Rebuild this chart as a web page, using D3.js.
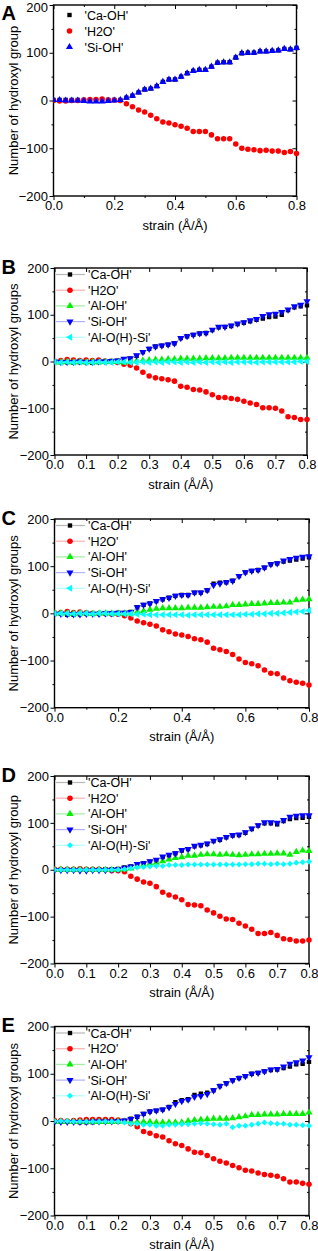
<!DOCTYPE html>
<html><head><meta charset="utf-8">
<script src="https://cdn.jsdelivr.net/npm/d3@7"></script>
<style>
html,body{margin:0;padding:0;background:#fff;}
svg{display:block;font-family:"Liberation Sans",Arial,sans-serif;}
</style></head>
<body>
<svg id="chart" width="318" height="1251"></svg>
<script>
// ---------- data ----------
const strain = [0.00,0.02,0.04,0.06,0.08,0.10,0.12,0.14,0.16,0.18,0.20,0.22,0.24,0.26,0.28,0.30,0.32,0.34,0.36,0.38,0.40,0.42,0.44,0.46,0.48,0.50,0.52,0.54,0.56,0.58,0.60,0.62,0.64,0.66,0.68,0.70,0.72,0.74,0.76,0.78,0.80];
const yTicks = [-200,-100,0,100,200];
const xTicksEven = [0.0,0.2,0.4,0.6,0.8];
const xTicksAll = [0.0,0.1,0.2,0.3,0.4,0.5,0.6,0.7,0.8];
const seriesNames = ["'Ca-OH'","'H2O'","'Al-OH'","'Si-OH'","'Al-O(H)-Si'"];

// Panel A
const A_CaOH = [1,1,1,1,1,1,0,0,0,1,1,1,6,10,17,23,25,30,39,44,44,50,57,62,64,64,71,79,80,80,90,99,100,100,103,103,104,105,108,107,110];
const A_H2O  = [0,-1,-1,0,0,1,2,2,3,1,1,0,-7,-13,-20,-24,-31,-38,-45,-47,-51,-54,-58,-65,-65,-65,-72,-80,-80,-80,-91,-100,-102,-103,-105,-104,-106,-106,-109,-107,-111];
const A_SiOH = [1,1,0,0,0,-1,-2,-2,-2,-1,0,1,6,10,17,23,25,30,39,44,44,50,57,62,64,64,71,79,80,80,90,99,100,100,103,103,104,105,108,107,110];

// Panel B
const B_CaOH = [0,-1,-2,-3,-2,-1,-3,-1,0,1,2,5,6,12,20,27,32,34,36,39,50,54,57,60,61,67,73,74,76,80,83,86,89,92,95,96,100,110,116,118,120];
const B_H2O  = [0,2,4,3,2,3,2,3,1,0,-2,-6,-8,-14,-23,-31,-35,-37,-39,-42,-53,-55,-60,-61,-65,-71,-77,-77,-79,-81,-85,-89,-92,-99,-99,-100,-106,-118,-120,-124,-124];
const B_AlOH = [-2,-2,-1,-2,-1,-2,-1,-2,-1,-1,-1,-2,0,1,2,3,4,4,5,5,6,6,6,6,7,7,7,7,8,8,8,8,8,8,8,8,8,8,8,8,8];
const B_SiOH = [0,-1,-1,-1,0,-1,-1,0,0,1,2,6,7,13,20,27,32,34,36,39,50,54,57,60,61,68,74,74,77,81,84,88,91,97,101,102,106,111,118,121,129];
const B_AlOHSi=[-1,-2,-1,-2,-1,-2,-2,-1,-2,-2,-1,-1,-2,-2,-1,-2,-1,-2,-1,-1,-2,-1,-2,-1,-2,-1,-2,-1,-2,-1,-1,-1,-2,-1,-1,-1,-1,-1,-1,0,0];

// Panel C
const C_CaOH = [-1,-1,-3,-3,-2,-1,-1,0,0,0,1,1,3,13,18,21,26,30,33,37,39,39,44,44,49,63,65,66,69,79,87,90,92,97,104,106,110,112,114,116,119];
const C_H2O  = [1,2,4,2,3,1,0,-1,-1,-2,-2,-5,-10,-16,-20,-23,-27,-35,-39,-44,-46,-49,-54,-56,-61,-74,-77,-81,-87,-97,-104,-107,-111,-120,-127,-128,-137,-143,-146,-148,-152];
const C_AlOH = [0,0,0,-1,0,0,-1,0,0,0,0,0,0,3,5,8,10,11,11,11,11,12,12,12,13,14,14,15,18,18,19,20,20,21,22,22,23,23,28,29,30];
const C_SiOH = [-1,-1,-2,-2,-2,-1,-1,-1,0,0,1,1,3,13,18,21,26,30,33,37,39,39,44,44,49,60,63,66,69,79,87,90,92,97,104,106,112,115,118,120,121];
const C_AlOHSi=[0,0,0,-1,0,0,-1,0,0,-1,-1,-1,-1,-2,-2,-3,-3,-3,-3,-3,-3,-4,-3,-3,-3,-3,-3,-3,-3,-3,-2,-2,-1,-1,0,0,1,2,3,4,6];

// Panel D
const D_CaOH = [0,0,0,0,0,0,0,1,1,1,2,5,7,12,14,17,20,27,31,35,41,44,50,52,55,61,64,69,73,74,79,87,94,99,99,97,104,108,110,111,113];
const D_H2O  = [1,1,1,1,2,1,1,1,0,-2,-2,-4,-14,-20,-26,-29,-36,-48,-54,-58,-64,-74,-75,-77,-86,-92,-99,-105,-106,-114,-120,-127,-136,-136,-134,-140,-147,-149,-152,-152,-150];
const D_AlOH = [0,0,0,0,0,0,0,0,0,0,0,1,3,7,10,13,15,18,22,25,27,30,30,32,33,33,32,33,32,31,32,33,33,34,34,35,35,32,38,41,40];
const D_SiOH = [-1,-1,-1,-1,-2,-2,-1,-1,-1,0,1,4,7,12,14,18,21,28,32,35,42,44,51,53,56,62,65,70,74,75,80,88,95,101,101,100,106,113,115,116,116];
const D_AlOHSi=[0,0,0,0,0,0,0,0,0,0,0,1,3,5,6,7,8,8,10,10,10,11,11,11,11,11,11,11,11,11,12,12,13,13,12,13,12,13,15,16,17];

// Panel E
const E_CaOH = [-1,-1,-2,-2,-3,-3,-3,-2,-2,-1,-1,0,5,9,15,20,22,24,30,40,44,46,55,58,60,65,74,80,86,91,95,100,102,105,108,109,112,115,120,121,125];
const E_H2O  = [1,1,0,1,2,3,3,3,3,3,2,0,-6,-12,-22,-26,-31,-34,-42,-48,-52,-59,-66,-67,-73,-80,-85,-89,-94,-99,-104,-106,-110,-113,-115,-117,-122,-129,-129,-132,-134];
const E_AlOH = [-2,-2,-2,-2,-2,-2,-2,-2,-2,-2,-1,-1,-2,-2,-2,-2,-3,-3,-3,-3,-3,0,2,3,4,5,5,5,6,8,10,13,13,14,14,14,15,15,15,15,18];
const E_SiOH = [-2,-2,-2,-2,-2,-2,-1,-1,-1,-1,0,1,4,9,15,20,22,24,29,36,42,45,51,53,57,65,74,80,86,91,95,100,102,105,109,110,115,121,124,128,135];
const E_AlOHSi=[0,0,0,-1,-1,-1,-1,-1,-1,-1,-1,-3,-6,-6,-8,-8,-10,-10,-8,-8,-7,-7,-6,-5,-6,-7,-8,-6,-13,-10,-10,-8,-6,-3,-5,-6,-6,-8,-8,-9,-10];

// ---------- styles ----------
const styles = {
  "'Ca-OH'":     {color:"#000000", light:"#b8b8b8", sym:"square"},
  "'H2O'":       {color:"#ff0000", light:"#ffb0b0", sym:"circle"},
  "'Al-OH'":     {color:"#00f000", light:"#a0f0a0", sym:"up"},
  "'Si-OH'":     {color:"#0000ff", light:"#b0b0ff", sym:"down"},
  "'Al-O(H)-Si'":{color:"#00ffff", light:"#b0ffff", sym:"left"}
};

const panels = [
  {letter:"A", top:5, bottom:196, left:53.5, right:296.5, xticks:xTicksEven, ylabel:"Number of hydroxyl group",
   legendLines:false, names:["'Ca-OH'","'H2O'","'Si-OH'"], data:[A_CaOH,A_H2O,A_SiOH], sym:{"'Si-OH'":"up"}},
  {letter:"B", top:268, bottom:455, left:54.5, right:307, xticks:xTicksAll, ylabel:"Number of hydroxyl groups",
   legendLines:true, names:seriesNames, data:[B_CaOH,B_H2O,B_AlOH,B_SiOH,B_AlOHSi], sym:{}},
  {letter:"C", top:519, bottom:707.7, left:54.5, right:309, xticks:xTicksEven, ylabel:"Number of hydroxyl groups",
   legendLines:true, names:seriesNames, data:[C_CaOH,C_H2O,C_AlOH,C_SiOH,C_AlOHSi], sym:{}},
  {letter:"D", top:776, bottom:963.5, left:54.5, right:309, xticks:xTicksAll, ylabel:"Number of hydroxyl group",
   legendLines:true, names:seriesNames, data:[D_CaOH,D_H2O,D_AlOH,D_SiOH,D_AlOHSi], sym:{"'Al-O(H)-Si'":"diamond"}},
  {letter:"E", top:1026.5, bottom:1215.5, left:54.5, right:309, xticks:xTicksAll, ylabel:"Number of hydroxyl groups",
   legendLines:true, names:seriesNames, data:[E_CaOH,E_H2O,E_AlOH,E_SiOH,E_AlOHSi], sym:{"'Al-O(H)-Si'":"diamond"}}
];

const svg = d3.select("#chart");

function symPath(kind){
  switch(kind){
    case "square": return d3.symbol(d3.symbolSquare, 19)();
    case "circle": return d3.symbol(d3.symbolCircle, 24)();
    case "diamond": return d3.symbol(d3.symbolSquare, 18)();
    default: return d3.symbol(d3.symbolTriangle, 22)();
  }
}
function symRot(kind){
  return {down:180, left:-90, diamond:45}[kind] || 0;
}

panels.forEach(p => {
  const g = svg.append("g");
  const x = d3.scaleLinear().domain([0,0.8]).range([p.left,p.right]);
  const y = d3.scaleLinear().domain([-200,200]).range([p.bottom,p.top]);

  const clipId = "clip"+p.letter;
  svg.append("clipPath").attr("id",clipId).append("rect")
    .attr("x",p.left).attr("y",p.top-4).attr("width",p.right-p.left+4).attr("height",p.bottom-p.top+8);

  const minorY = [-150,-50,50,150];
  const minorX = p.xticks.length===5 ? [0.1,0.3,0.5,0.7] : [];
  const fmtX = d3.format(".1f");
  const ax = g.append("g").attr("class","axes");

  const left = ax.append("g").attr("transform",`translate(${p.left},0)`)
    .call(d3.axisLeft(y).tickValues(yTicks).tickSize(4).tickPadding(1.5).tickFormat(d3.format("d")));
  left.append("g").call(d3.axisLeft(y).tickValues(minorY).tickSize(2).tickFormat(""));
  const bottom = ax.append("g").attr("transform",`translate(0,${p.bottom})`)
    .call(d3.axisBottom(x).tickValues(p.xticks).tickSize(4).tickPadding(1).tickFormat(fmtX));
  if(minorX.length) bottom.append("g").call(d3.axisBottom(x).tickValues(minorX).tickSize(2).tickFormat(""));
  const right = ax.append("g").attr("transform",`translate(${p.right},0)`)
    .call(d3.axisRight(y).tickValues(yTicks).tickSize(-4).tickFormat(""));
  right.append("g").call(d3.axisRight(y).tickValues(minorY).tickSize(-2).tickFormat(""));
  const top = ax.append("g").attr("transform",`translate(0,${p.top})`)
    .call(d3.axisTop(x).tickValues(p.xticks).tickSize(-4).tickFormat(""));
  if(minorX.length) top.append("g").call(d3.axisTop(x).tickValues(minorX).tickSize(-2).tickFormat(""));
  ax.selectAll(".domain").remove();
  ax.selectAll("line").attr("stroke","#000").attr("stroke-width",1);
  ax.selectAll("text").attr("fill","#000").style("font-size","13px").style("font-family","'Liberation Sans',Arial,sans-serif");
  // keep the topmost label of panel A inside the page
  if(p.letter==="A") left.selectAll(".tick text").filter(d=>d===200).attr("dy","0.5em");

  g.append("rect").attr("x",p.left).attr("y",p.top).attr("width",p.right-p.left).attr("height",p.bottom-p.top)
    .attr("fill","none").attr("stroke","#000").attr("stroke-width",1.4);

  const plot = g.append("g").attr("clip-path",`url(#${clipId})`);
  p.names.forEach((name,si) => {
    const st = styles[name];
    const kind = p.sym[name] || st.sym;
    const vals = p.data[si];
    const pts = strain.map((s,i)=>[s,vals[i]]);
    if(p.legendLines){
      plot.append("path").datum(pts)
        .attr("d", d3.line().x(d=>x(d[0])).y(d=>y(d[1])))
        .attr("fill","none").attr("stroke",st.light).attr("stroke-width",0.8);
    }
    plot.append("g").selectAll("path").data(pts).join("path")
      .attr("d", symPath(kind))
      .attr("transform", d=>`translate(${x(d[0])},${y(d[1])}) rotate(${symRot(kind)})`)
      .attr("fill", st.color);
  });

  const lg = g.append("g");
  const step = p.legendLines ? 15.7 : 16;
  const y0 = p.top + (p.legendLines ? 6.5 : 10);
  p.names.forEach((name,si) => {
    const st = styles[name];
    const kind = p.sym[name] || st.sym;
    const ly = y0 + si*step;
    const mx = p.legendLines ? 70 : 69.5;
    if(p.legendLines){
      lg.append("line").attr("x1",56).attr("x2",85).attr("y1",ly).attr("y2",ly)
        .attr("stroke",st.light).attr("stroke-width",1.2);
    }
    lg.append("path").attr("d",symPath(kind))
      .attr("transform",`translate(${mx},${ly}) rotate(${symRot(kind)})`).attr("fill",st.color);
    lg.append("text").attr("x", p.legendLines ? 88 : 84.5).attr("y", ly+4.5)
      .style("font-size","12.5px").text(name);
  });

  g.append("text").attr("x",(p.left+p.right)/2).attr("y",p.bottom+33.5)
    .attr("text-anchor","middle").style("font-size","13px").text("strain (Å/Å)");
  g.append("text").attr("transform",`translate(17.5,${(p.top+p.bottom)/2}) rotate(-90)`)
    .attr("text-anchor","middle").style("font-size","13px").text(p.ylabel);
  g.append("text").attr("x",1.5).attr("y",p.top+(p.letter==="A"?15:5.5))
    .style("font-size","20px").style("font-weight","bold").text(p.letter);
});
</script>
</body></html>
